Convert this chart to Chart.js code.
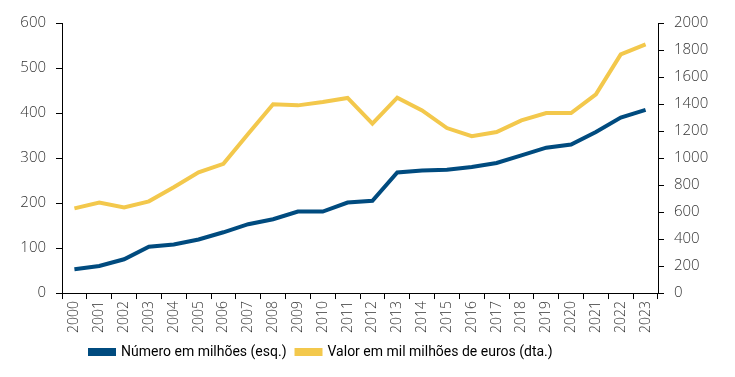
<!DOCTYPE html>
<html>
<head>
<meta charset="utf-8">
<script src="https://cdn.jsdelivr.net/npm/chart.js@4"></script>
<style>
  html, body { margin: 0; padding: 0; background: #fff; }
  #wrap { width: 735px; height: 377px; }
</style>
</head>
<body>
<div id="wrap"><canvas id="chart" width="735" height="377"></canvas></div>
<script>
// anos
const YEARS = ['2000','2001','2002','2003','2004','2005','2006','2007','2008','2009','2010','2011',
               '2012','2013','2014','2015','2016','2017','2018','2019','2020','2021','2022','2023'];

// número de operações, em milhões (eixo esquerdo)
const NUMERO = [53, 60, 75, 103, 108, 119, 135, 153, 164, 181, 181, 201,
                205, 268, 272, 274, 280, 289, 306, 323, 330, 358, 390, 407];

// valor em mil milhões de euros (eixo direito)
const VALOR = [627, 671, 634, 679, 783, 894, 957, 1180, 1398, 1390, 1415, 1445,
               1254, 1447, 1353, 1222, 1162, 1192, 1279, 1333, 1333, 1472, 1767, 1842];

const BLUE = '#004B7F';
const YELLOW = '#F3C84C';

const tickFont = { family: "'Open Sans', sans-serif", size: 15, weight: '300' };
const axisLine = { display: true, color: '#000', width: 1 };
const tickGrid = { display: true, drawOnChartArea: false, drawTicks: true, tickLength: 6, color: '#000' };

// legenda alinhada à esquerda, começa por volta de x=90
const legendShift = {
  id: 'legendShift',
  afterLayout(chart) {
    if (chart.legend) chart.legend.left = 80;
  },
};

new Chart(document.getElementById('chart'), {
  type: 'line',
  data: {
    labels: YEARS,
    datasets: [
      {
        label: 'Número em milhões (esq.)',
        data: NUMERO,
        yAxisID: 'y',
        borderColor: BLUE,
        backgroundColor: BLUE,
        borderWidth: 4,
        pointRadius: 0,
        tension: 0,
      },
      {
        label: 'Valor em mil milhões de euros (dta.)',
        data: VALOR,
        yAxisID: 'y2',
        borderColor: YELLOW,
        backgroundColor: YELLOW,
        borderWidth: 4,
        pointRadius: 0,
        tension: 0,
      },
    ],
  },
  plugins: [legendShift],
  options: {
    responsive: false,
    animation: false,
    layout: { padding: { left: 0, right: 14, top: 23, bottom: 8 } },
    plugins: {
      tooltip: { enabled: false },
      legend: {
        position: 'bottom',
        align: 'start',
        labels: {
          font: { family: "Roboto, sans-serif", size: 14 },
          color: '#000',
          boxWidth: 24,
          boxHeight: 4,
          padding: 10,
        },
      },
    },
    scales: {
      x: {
        offset: true,
        grid: { ...tickGrid, offset: true },
        border: axisLine,
        ticks: {
          font: { family: "'Open Sans', sans-serif", size: 14, weight: '300' },
          color: '#333',
          minRotation: 90,
          maxRotation: 90,
          autoSkip: false,
          padding: 2,
        },
      },
      y: {
        position: 'left',
        min: 0,
        max: 600,
        afterFit: (s) => { s.width = 62; },
        grid: tickGrid,
        border: axisLine,
        ticks: { stepSize: 100, font: tickFont, color: '#333', padding: 10 },
      },
      y2: {
        position: 'right',
        min: 0,
        max: 2000,
        afterFit: (s) => { s.width = 63; },
        grid: tickGrid,
        border: axisLine,
        ticks: { stepSize: 200, font: tickFont, color: '#333', padding: 10, callback: (v) => String(v) },
      },
    },
  },
});
</script>
</body>
</html>
